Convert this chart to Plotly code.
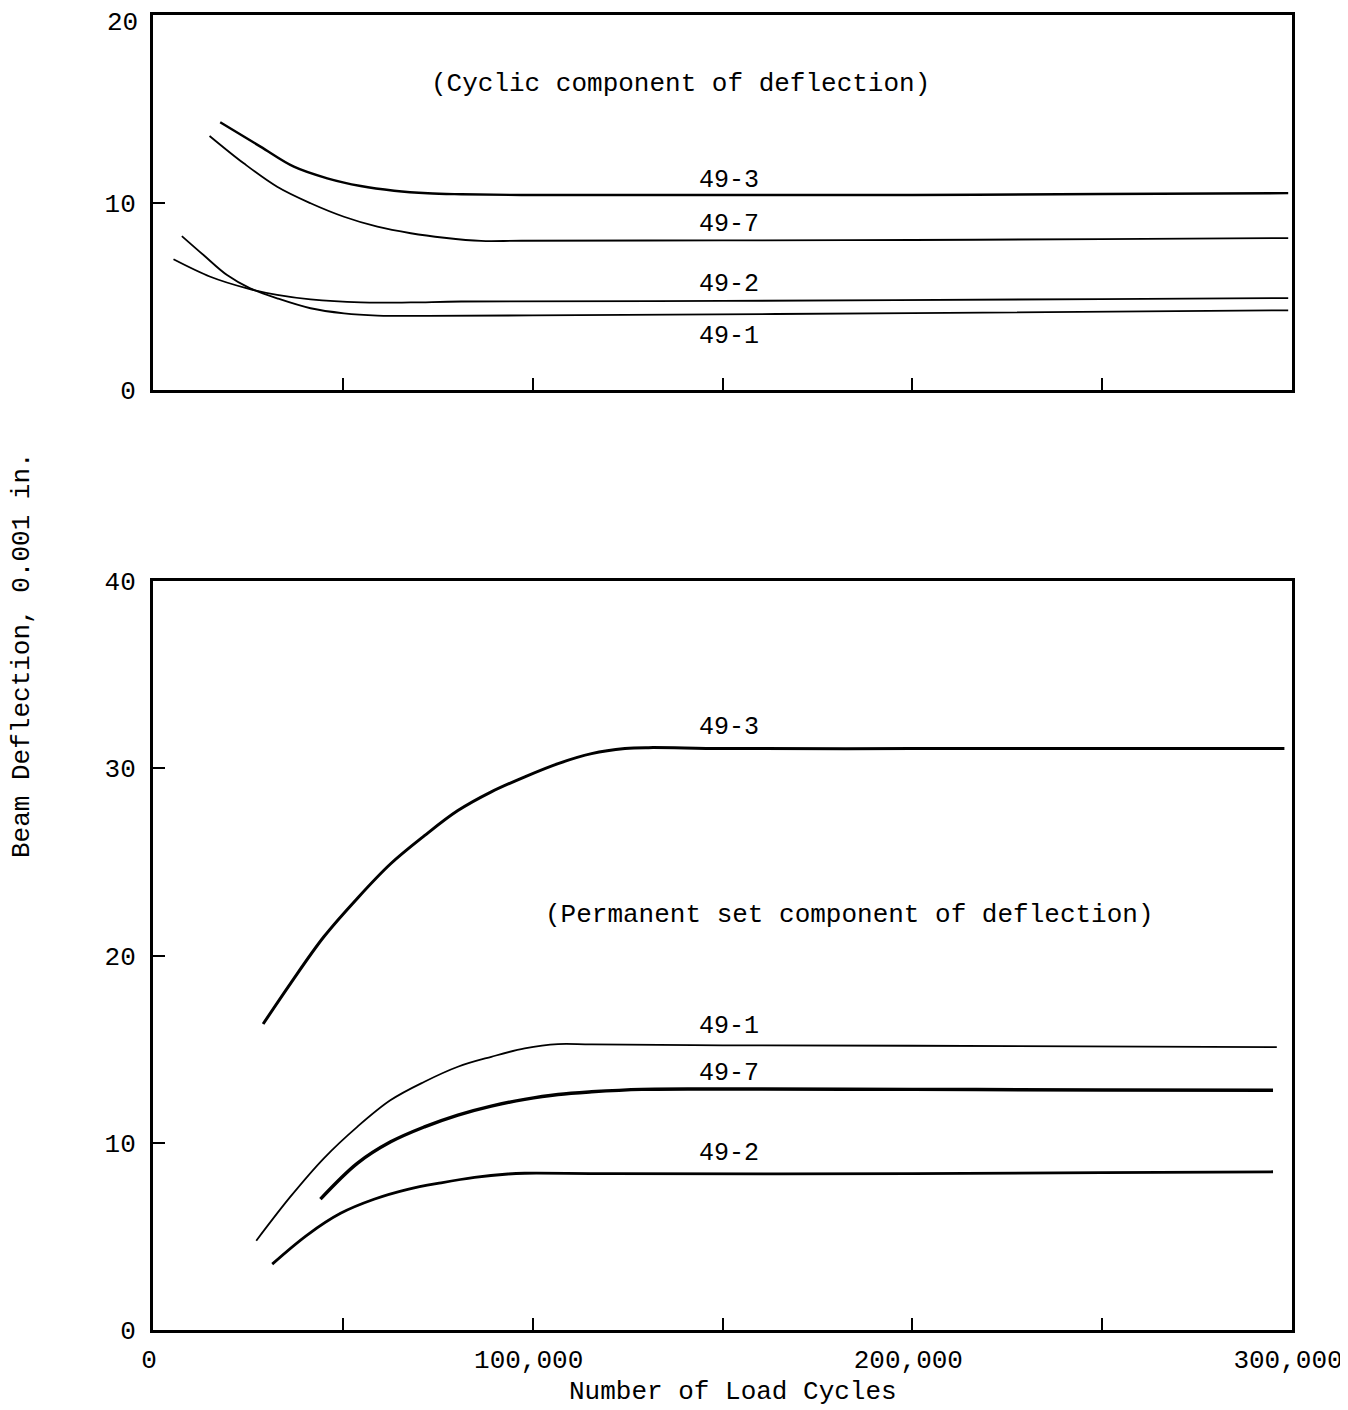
import plotly.graph_objects as go
from plotly.subplots import make_subplots

# ---- data (x in load cycles, y in 0.001 in.) ----
# Top panel: cyclic component of deflection
cyc_49_3_x = [17700, 28300, 37100, 45900, 54700, 63500, 72400, 81200, 97000, 150000, 200000, 250000, 299000]
cyc_49_3_y = [14.28, 12.98, 11.91, 11.29, 10.88, 10.63, 10.49, 10.44, 10.4, 10.4, 10.4, 10.45, 10.5]
cyc_49_7_x = [14900, 23900, 32700, 41500, 50300, 59100, 67900, 76700, 86400, 97000, 150000, 200000, 250000, 299000]
cyc_49_7_y = [13.55, 12.09, 10.84, 9.96, 9.24, 8.71, 8.36, 8.12, 7.95, 7.96, 7.98, 8.0, 8.05, 8.1]
cyc_49_2_x = [5400, 15100, 24800, 32700, 41500, 54700, 67900, 81200, 150000, 250000, 299000]
cyc_49_2_y = [6.97, 6.04, 5.42, 5.07, 4.83, 4.67, 4.67, 4.72, 4.75, 4.85, 4.9]
cyc_49_1_x = [7600, 13300, 19500, 25600, 32700, 41500, 50300, 59100, 72400, 100000, 200000, 299000]
cyc_49_1_y = [8.21, 7.2, 6.13, 5.42, 4.89, 4.36, 4.09, 3.97, 3.95, 3.98, 4.1, 4.25]

# Bottom panel: permanent set component of deflection
perm_49_3_x = [29000, 36200, 45000, 53800, 62600, 71500, 80300, 89100, 97900, 106700, 115500, 124300, 130500, 150000, 200000, 250000, 298000]
perm_49_3_y = [16.34, 18.5, 21.0, 23.05, 24.9, 26.4, 27.74, 28.74, 29.54, 30.25, 30.78, 31.05, 31.1, 31.05, 31.05, 31.05, 31.05]
perm_49_1_x = [27200, 36200, 45000, 53800, 62600, 71500, 80300, 89100, 97900, 106700, 115500, 150000, 200000, 296000]
perm_49_1_y = [4.77, 7.12, 9.17, 10.85, 12.28, 13.26, 14.06, 14.59, 15.04, 15.27, 15.25, 15.2, 15.18, 15.11]
perm_49_7_x = [44100, 53800, 62600, 71500, 80300, 89100, 97900, 106700, 115500, 128700, 150000, 200000, 250000, 295000]
perm_49_7_y = [6.99, 8.9, 10.05, 10.85, 11.48, 11.96, 12.32, 12.58, 12.72, 12.85, 12.87, 12.85, 12.82, 12.8]
perm_49_2_x = [31400, 40600, 49400, 58200, 67100, 75900, 84700, 93500, 97900, 120000, 200000, 250000, 295000]
perm_49_2_y = [3.52, 5.07, 6.23, 6.98, 7.51, 7.86, 8.15, 8.33, 8.37, 8.35, 8.35, 8.4, 8.45]

x_tickvals = [0, 50000, 100000, 150000, 200000, 250000, 300000]
x_ticktext = ["0", "", "100,000", "", "200,000", "", "300,000"]
top_y_ticks = [0, 10, 20]
top_y_ticktext = ["0", "10", ""]   # the "20" label is drawn separately, just below the frame top
top_y_max_label = "20"
bot_y_ticks = [0, 10, 20, 30, 40]

# series labels (text, x, y)
top_labels = [("49-3", 151700, 11.15), ("49-7", 151700, 8.85), ("49-2", 151700, 5.65), ("49-1", 151700, 2.83)]
bot_labels = [("49-3", 151700, 32.2), ("49-1", 151700, 16.23), ("49-7", 151700, 13.72), ("49-2", 151700, 9.45)]

FONT = "Liberation Mono"
# the page body adds an 8px offset, so the figure is sized to fit the window
W, H = 1340, 1402
ML, MR, MT, MB = 145, 56, 7, 80

fig = make_subplots(rows=2, cols=1)

def add(x, y, w, row):
    fig.add_trace(go.Scatter(x=x, y=y, mode="lines",
                             line=dict(color="black", width=w, shape="spline", smoothing=1.0),
                             showlegend=False, hoverinfo="skip"), row=row, col=1)

add(cyc_49_3_x, cyc_49_3_y, 2.4, 1)
add(cyc_49_7_x, cyc_49_7_y, 1.8, 1)
add(cyc_49_2_x, cyc_49_2_y, 1.8, 1)
add(cyc_49_1_x, cyc_49_1_y, 1.8, 1)

add(perm_49_3_x, perm_49_3_y, 3.0, 2)
add(perm_49_1_x, perm_49_1_y, 1.8, 2)
add(perm_49_7_x, perm_49_7_y, 3.4, 2)
add(perm_49_2_x, perm_49_2_y, 2.8, 2)

axis_common = dict(showline=True, linecolor="black", linewidth=3, mirror=True,
                   showgrid=False, zeroline=False, ticks="inside", ticklen=12,
                   tickwidth=2, tickcolor="black", automargin=False,
                   ticklabeloverflow="allow",
                   tickfont=dict(family=FONT, size=26, color="black"))

plot_h = H - MT - MB
plot_w = W - ML - MR
# panel edges in figure pixels
top_bottom_px, top_top_px = 382, 7
bot_bottom_px, bot_top_px = 1322, 573

def fy(py):
    return (H - MB - py) / plot_h

fig.update_layout(
    width=W, height=H,
    paper_bgcolor="white", plot_bgcolor="white",
    margin=dict(l=ML, r=MR, t=MT, b=MB, autoexpand=False),
    xaxis=dict(domain=[0, 1], range=[0, 300000], tickvals=x_tickvals, ticktext=x_ticktext,
               showticklabels=False, anchor="y", **axis_common),
    yaxis=dict(domain=[fy(top_bottom_px), fy(top_top_px)], range=[0, 20], tickvals=top_y_ticks,
               ticktext=top_y_ticktext, ticklabelstandoff=9, anchor="x", **axis_common),
    xaxis2=dict(domain=[0, 1], range=[0, 300000], tickvals=x_tickvals, ticktext=x_ticktext,
                ticklabelstandoff=4, ticklabelshift=-4, anchor="y2", **axis_common),
    yaxis2=dict(domain=[fy(bot_bottom_px), fy(bot_top_px)], range=[0, 40], tickvals=bot_y_ticks,
                ticklabelstandoff=9, anchor="x2", **axis_common),
)

def px_to_paper(px, py):
    return (px - ML) / plot_w, (H - MB - py) / plot_h

annos = []
for t, x, y in top_labels:
    annos.append(dict(text=t, x=x, y=y, xref="x", yref="y", showarrow=False,
                      font=dict(family=FONT, size=25, color="black")))
for t, x, y in bot_labels:
    annos.append(dict(text=t, x=x, y=y, xref="x2", yref="y2", showarrow=False,
                      font=dict(family=FONT, size=25, color="black")))
annos.append(dict(text="(Cyclic component of deflection)", x=139000, y=16.3, xref="x", yref="y",
                  showarrow=False, font=dict(family=FONT, size=26, color="black")))
annos.append(dict(text="(Permanent set component of deflection)", x=183500, y=22.16, xref="x2", yref="y2",
                  showarrow=False, font=dict(family=FONT, size=26, color="black")))
# top-panel "20" label, nudged down so it stays inside the page
annos.append(dict(text=top_y_max_label, x=0, y=20, xref="x", yref="y", xanchor="right", yanchor="middle",
                  xshift=-13, yshift=-8, showarrow=False,
                  font=dict(family=FONT, size=26, color="black")))
yx, yy = px_to_paper(14, 647)
annos.append(dict(text="Beam Deflection, 0.001 in.", x=yx, y=yy, xref="paper", yref="paper",
                  xanchor="center", yanchor="middle",
                  showarrow=False, textangle=-90, font=dict(family=FONT, size=26, color="black")))
tx, ty = px_to_paper(725, 1384)
annos.append(dict(text="Number of Load Cycles", x=tx, y=ty, xref="paper", yref="paper",
                  xanchor="center", yanchor="middle",
                  showarrow=False, font=dict(family=FONT, size=26, color="black")))
fig.update_layout(annotations=annos)

fig.write_html("out.html")
